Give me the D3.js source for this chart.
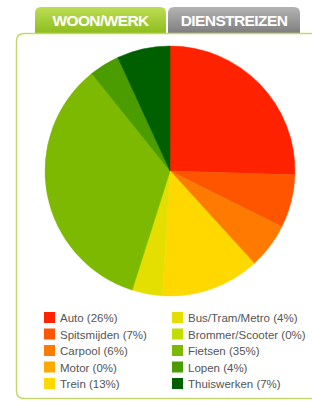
<!DOCTYPE html>
<html>
<head>
<meta charset="utf-8">
<script src="https://cdn.jsdelivr.net/npm/d3@7"></script>
<style>
  body { margin: 0; background: #fff; }
  svg { display: block; }
</style>
</head>
<body>
<script>
// chart values
var categories = ['Auto', 'Spitsmijden', 'Carpool', 'Motor', 'Trein',
  'Bus/Tram/Metro', 'Brommer/Scooter', 'Fietsen', 'Lopen', 'Thuiswerken'];
var percentages = [26, 7, 6, 0, 13, 4, 0, 35, 4, 7];
var colors = ['#ff2200', '#ff5500', '#ff7a00', '#ffaa00', '#ffd800',
  '#e4df00', '#c2dd00', '#7db900', '#4a9c00', '#006000'];
var tabLabels = ['WOON/WERK', 'DIENSTREIZEN'];

var width = 312;
var height = 401;

var svg = d3.select('body').append('svg')
  .attr('width', width)
  .attr('height', height);

var defs = svg.append('defs');

function gradient(id, top, bottom) {
  var g = defs.append('linearGradient')
    .attr('id', id)
    .attr('x1', 0).attr('y1', 0).attr('x2', 0).attr('y2', 1);
  g.append('stop').attr('offset', '0%').attr('stop-color', top);
  g.append('stop').attr('offset', '100%').attr('stop-color', bottom);
}
gradient('tabGreen', '#bedd55', '#8cbc1c');
gradient('tabGray', '#b4b4b4', '#7c7c7c');

// tabs
function tabPath(x, y, w, h, r) {
  return 'M' + x + ',' + (y + h) +
    'V' + (y + r) +
    'Q' + x + ',' + y + ' ' + (x + r) + ',' + y +
    'H' + (x + w - r) +
    'Q' + (x + w) + ',' + y + ' ' + (x + w) + ',' + (y + r) +
    'V' + (y + h) + 'Z';
}

var tabs = [
  { label: tabLabels[0], x: 35, w: 131, fill: 'url(#tabGreen)' },
  { label: tabLabels[1], x: 168, w: 132, fill: 'url(#tabGray)' }
];

var tab = svg.selectAll('g.tab')
  .data(tabs)
  .enter().append('g')
  .attr('class', 'tab');

tab.append('path')
  .attr('d', function (d) { return tabPath(d.x, 7, d.w, 27, 6); })
  .attr('fill', function (d) { return d.fill; });

tab.append('text')
  .attr('x', function (d) { return d.x + d.w / 2; })
  .attr('y', 26)
  .attr('text-anchor', 'middle')
  .attr('font-family', '"Liberation Sans", Arial, sans-serif')
  .attr('font-weight', 'bold')
  .attr('font-size', 15.5)
  .attr('letter-spacing', -0.6)
  .attr('fill', '#fff')
  .text(function (d) { return d.label; });

// panel
svg.append('path')
  .attr('d', 'M330,33.5 H24 Q16.5,33.5 16.5,41 V391 Q16.5,398.5 24,398.5 H330')
  .attr('fill', '#fff')
  .attr('stroke', '#c7d66a')
  .attr('stroke-width', 1.5);

// pie
var cx = 170, cy = 171, radius = 125;

var pie = d3.pie().sort(null).value(function (d) { return d; });
var arc = d3.arc().innerRadius(0).outerRadius(radius);

svg.append('g')
  .attr('transform', 'translate(' + cx + ',' + cy + ')')
  .selectAll('path')
  .data(pie(percentages))
  .enter().append('path')
  .attr('d', arc)
  .attr('fill', function (d, i) { return colors[i]; })
  .attr('stroke', function (d, i) { return colors[i]; })
  .attr('stroke-width', 0.5);

// legend, two columns of five
var rows = 5;
var colX = d3.scaleOrdinal().domain([0, 1]).range([44, 172]);
var rowY = d3.scaleLinear().domain([0, rows - 1]).range([312, 378]);

var item = svg.selectAll('g.legend')
  .data(categories)
  .enter().append('g')
  .attr('class', 'legend')
  .attr('transform', function (d, i) {
    return 'translate(' + colX(Math.floor(i / rows)) + ',' + rowY(i % rows) + ')';
  });

item.append('rect')
  .attr('width', 11)
  .attr('height', 11)
  .attr('fill', function (d, i) { return colors[i]; });

item.append('text')
  .attr('x', 16)
  .attr('y', 10)
  .attr('font-family', '"Liberation Sans", Arial, sans-serif')
  .attr('font-size', 11.5)
  .attr('fill', '#555')
  .text(function (d, i) { return d + ' (' + percentages[i] + '%)'; });
</script>
</body>
</html>
